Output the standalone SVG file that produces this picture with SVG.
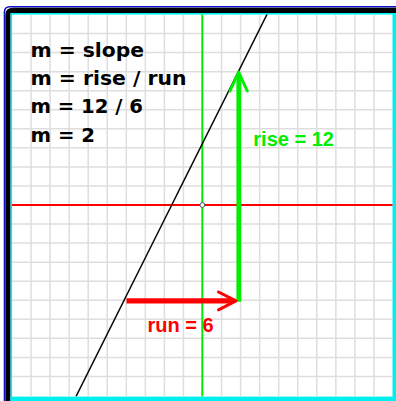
<svg xmlns="http://www.w3.org/2000/svg" width="396" height="401" viewBox="0 0 396 401">
<style>
.grid line{stroke:#dedede;stroke-width:1.5}
.eq{font-family:"DejaVu Sans",Verdana,sans-serif;font-weight:bold;font-size:20.3px;fill:#000}
.lbl{font-family:"Liberation Sans",Arial,sans-serif;font-weight:bold;font-size:20px}
</style>
<defs>
<clipPath id="plot"><rect x="12" y="14.5" width="380.5" height="382"/></clipPath>
</defs>
<rect x="0" y="0" width="396" height="401" fill="#fff"/>
<g id="frame">
<path d="M4.5,401 V12 Q4.5,6.8 10,6.8 H396" fill="none" stroke="#1010c8" stroke-width="1.6"/>
<path d="M8,401 V15 Q8,10.3 13,10.3 H396" fill="none" stroke="#000" stroke-width="5.2"/>
<rect x="10.5" y="13" width="385.5" height="1.6" fill="#00f0f0"/>
<rect x="10.5" y="13" width="1.6" height="388" fill="#00f0f0"/>
<rect x="392.5" y="13" width="3.5" height="388" fill="#00f0f0"/>
<rect x="10.5" y="396.6" width="385.5" height="4.4" fill="#00f0f0"/>
</g>
<g id="grid" class="grid" clip-path="url(#plot)">
<line x1="31.05" y1="14" x2="31.05" y2="397"/>
<line x1="50.1" y1="14" x2="50.1" y2="397"/>
<line x1="69.15" y1="14" x2="69.15" y2="397"/>
<line x1="88.2" y1="14" x2="88.2" y2="397"/>
<line x1="107.25" y1="14" x2="107.25" y2="397"/>
<line x1="126.3" y1="14" x2="126.3" y2="397"/>
<line x1="145.35" y1="14" x2="145.35" y2="397"/>
<line x1="164.4" y1="14" x2="164.4" y2="397"/>
<line x1="183.45" y1="14" x2="183.45" y2="397"/>
<line x1="221.55" y1="14" x2="221.55" y2="397"/>
<line x1="240.6" y1="14" x2="240.6" y2="397"/>
<line x1="259.65" y1="14" x2="259.65" y2="397"/>
<line x1="278.7" y1="14" x2="278.7" y2="397"/>
<line x1="297.75" y1="14" x2="297.75" y2="397"/>
<line x1="316.8" y1="14" x2="316.8" y2="397"/>
<line x1="335.85" y1="14" x2="335.85" y2="397"/>
<line x1="354.9" y1="14" x2="354.9" y2="397"/>
<line x1="373.95" y1="14" x2="373.95" y2="397"/>
<line x1="12" y1="33.55" x2="393" y2="33.55"/>
<line x1="12" y1="52.6" x2="393" y2="52.6"/>
<line x1="12" y1="71.65" x2="393" y2="71.65"/>
<line x1="12" y1="90.7" x2="393" y2="90.7"/>
<line x1="12" y1="109.75" x2="393" y2="109.75"/>
<line x1="12" y1="128.8" x2="393" y2="128.8"/>
<line x1="12" y1="147.85" x2="393" y2="147.85"/>
<line x1="12" y1="166.9" x2="393" y2="166.9"/>
<line x1="12" y1="185.95" x2="393" y2="185.95"/>
<line x1="12" y1="224.05" x2="393" y2="224.05"/>
<line x1="12" y1="243.1" x2="393" y2="243.1"/>
<line x1="12" y1="262.15" x2="393" y2="262.15"/>
<line x1="12" y1="281.2" x2="393" y2="281.2"/>
<line x1="12" y1="300.25" x2="393" y2="300.25"/>
<line x1="12" y1="319.3" x2="393" y2="319.3"/>
<line x1="12" y1="338.35" x2="393" y2="338.35"/>
<line x1="12" y1="357.4" x2="393" y2="357.4"/>
<line x1="12" y1="376.45" x2="393" y2="376.45"/>
</g>
<g id="equations" class="eq">
<text x="30.5" y="56.5" textLength="113.5" lengthAdjust="spacingAndGlyphs">m = slope</text>
<text x="30.5" y="85" textLength="156" lengthAdjust="spacingAndGlyphs">m = rise / run</text>
<text x="30.5" y="113.3" textLength="112.5" lengthAdjust="spacingAndGlyphs">m = 12 / 6</text>
<text x="30.5" y="141.7" textLength="64.5" lengthAdjust="spacingAndGlyphs">m = 2</text>
</g>
<g id="rise-label"><text class="lbl" x="253.3" y="146" fill="#00ee00">rise = 12</text></g>
<g id="run-label"><text class="lbl" x="147.5" y="331.7" fill="#ff0000">run = 6</text></g>
<g id="connectors">
<g id="axes" clip-path="url(#plot)">
<line x1="202.3" y1="14" x2="202.3" y2="397" stroke="#00ee00" stroke-width="2"/>
<line x1="12" y1="205" x2="393" y2="205" stroke="#ff0000" stroke-width="2"/>
<line x1="267.2" y1="14" x2="76" y2="396.5" stroke="#000" stroke-width="1.5"/>
</g>
<g id="rise-arrow" stroke="#00ee00" fill="none">
<line x1="238.8" y1="301.7" x2="238.8" y2="74" stroke-width="4.8"/>
<polyline points="230,91 238.6,72 247.3,91" stroke-width="3" stroke-linecap="round" stroke-linejoin="round"/>
</g>
<g id="run-arrow" stroke="#ff0000" fill="none">
<line x1="126.5" y1="300.8" x2="233" y2="300.8" stroke-width="5.2"/>
<polyline points="218.5,292 236,300.8 218.5,309.8" stroke-width="3" stroke-linecap="round" stroke-linejoin="round"/>
</g>
</g>
<g id="origin"><circle cx="202.3" cy="205" r="2.4" fill="#fff" stroke="#555" stroke-width="1"/></g>
</svg>
